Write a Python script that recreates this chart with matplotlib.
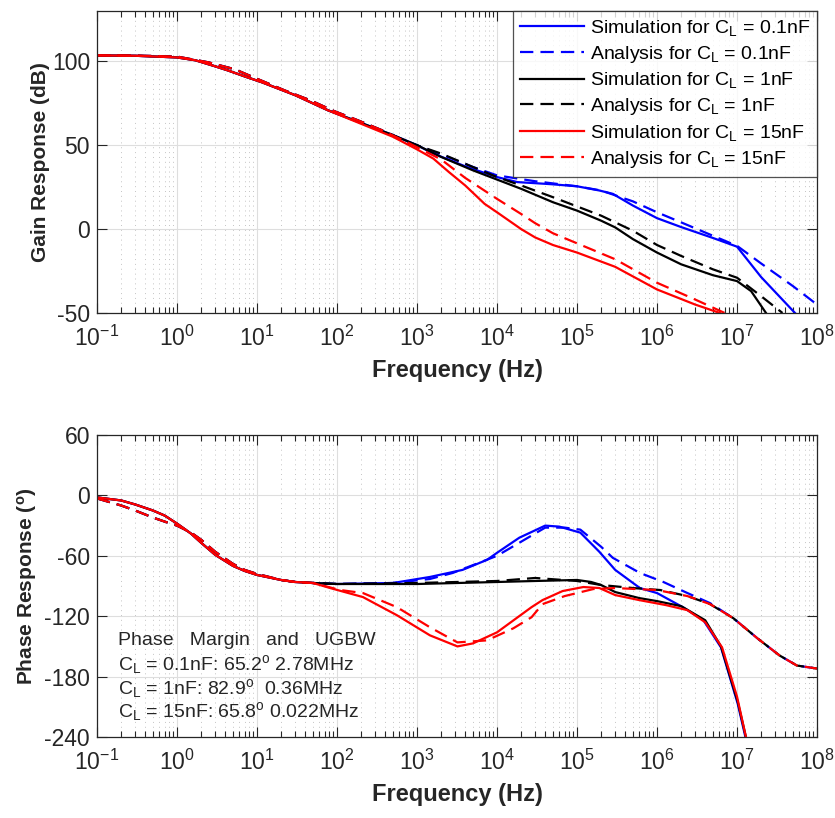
import numpy as np
import matplotlib
matplotlib.use('Agg')
import matplotlib.pyplot as plt
from matplotlib.ticker import LogLocator, NullFormatter

plt.rcParams['font.family'] = ['Liberation Sans', 'DejaVu Sans']
plt.rcParams['mathtext.fontset'] = 'custom'
plt.rcParams['mathtext.rm'] = 'Liberation Sans'
plt.rcParams['mathtext.it'] = 'Liberation Sans:italic'
plt.rcParams['mathtext.bf'] = 'Liberation Sans:bold'
plt.rcParams['axes.unicode_minus'] = False

# ---------------- gain data (dB) ----------------
# low frequency part, shared by all load caps
lf_gain_f = [0.1, 0.3, 1, 1.7, 3, 4.3, 7, 11.5, 30, 77, 205]
lf_gain_sim = [103.5, 103.3, 102.3, 100.6, 97, 94.6, 91, 87.5, 79.8, 70.8, 63]
lf_gain_ana_f = [0.1, 0.3, 1, 2.45, 5.3, 10.3, 22, 46, 93, 180]
lf_gain_ana = [103.5, 103.4, 102.8, 99.4, 95.2, 89.3, 82.7, 76.8, 70.2, 64.9]

g01_sim_f = [500, 1e3, 1.6e3, 4.2e3, 1e4, 1.8e4, 4.6e4, 1e5, 1.9e5, 2.8e5, 5e5, 1e6, 2e6, 5e6, 1e7, 2e7, 5.3e7]
g01_sim = [56, 50, 45, 37, 31, 28, 26.8, 25.5, 23, 21, 14, 6.5, 1.2, -5.3, -10.5, -28.6, -50]
g01_ana_f = [360, 770, 2e3, 5e3, 1e4, 3e4, 1e5, 2e5, 5e5, 1e6, 2e6, 5e6, 1e7, 2e7, 5e7, 1e8]
g01_ana = [59, 51.8, 44.5, 37, 32, 28.5, 25.5, 23, 16.5, 10, 4, -4, -10, -20.5, -34, -45]

g1_sim_f = [500, 1e3, 2e3, 5e3, 1e4, 2e4, 5e4, 1e5, 2e5, 3e5, 5e5, 1e6, 2e6, 5e6, 1e7, 1.5e7, 2.3e7]
g1_sim = [56, 50, 43, 35, 29.5, 24, 16, 11, 5, 1, -6, -14, -21, -27.5, -31, -37, -50]
g1_ana_f = [360, 770, 2e3, 5e3, 1e4, 2e4, 5e4, 1e5, 2e5, 5e5, 1e6, 2e6, 5e6, 1e7, 2e7, 3.7e7]
g1_ana = [59, 51.8, 45, 37, 31, 26, 19, 13.5, 8, -1, -9.5, -16, -24, -29, -40, -50]

g15_sim_f = [500, 1e3, 1.6e3, 2.5e3, 4e3, 7e3, 1e4, 2e4, 3e4, 5e4, 1e5, 3e5, 1e6, 3e6, 6.1e6]
g15_sim = [55, 47.5, 42, 34, 26, 15, 10, 0, -5, -9.5, -14, -22.5, -36, -45, -50]
g15_ana_f = [360, 770, 2e3, 4e3, 1e4, 2e4, 3e4, 5e4, 1e5, 3e5, 1e6, 3e6, 7e6]
g15_ana = [59, 51.5, 41.5, 30.5, 18, 9, 3.5, -2.5, -8.5, -18, -32, -42, -50]

# ---------------- phase data (deg) ----------------
lf_ph_f = [0.1, 0.2, 0.3, 0.5, 0.7, 1, 1.5, 2, 3, 5, 7, 10, 20, 30, 50]
lf_ph_sim = [-2, -5, -9, -15, -20, -28, -38, -47, -59, -70, -75, -79, -84, -86, -87]
lf_ph_ana = [-3, -10, -15, -22, -26, -30, -37, -44, -56, -68, -74, -78, -84, -86, -87]

p01_sim_f = [100, 500, 1.45e3, 3.7e3, 7.5e3, 1e4, 1.9e4, 4e4, 6e4, 1.1e5, 1.9e5, 3e5, 6.1e5, 1e6, 2.1e6, 3.8e6, 6.3e6, 1.02e7, 1.28e7]
p01_sim = [-88, -87, -81, -74, -64, -57, -42, -30, -31, -37, -56, -74, -92, -97, -111, -124, -151, -207, -241]
p01_ana_f = [100, 500, 1.45e3, 2.8e3, 1e4, 1.9e4, 4e4, 7e4, 1.1e5, 2e5, 2.8e5, 6.1e5, 1.2e6, 2.4e6, 4.6e6, 9e6, 1.8e7, 3.4e7, 5.6e7, 1e8]
p01_ana = [-88, -87, -83, -77, -60, -47, -32, -32, -34, -51, -62, -77, -86, -97, -107, -122, -142, -159, -169, -172]

p1_sim_f = [100, 1e3, 1e4, 3e4, 1e5, 1.5e5, 2e5, 3e5, 6e5, 1e6, 2e6, 4e6, 6.3e6, 1.02e7, 1.3e7]
p1_sim = [-88, -88, -86, -85, -84, -86, -89, -96, -102, -105, -110, -124, -150, -205, -241]
p1_ana_f = [100, 1e3, 1e4, 3e4, 1e5, 2e5, 5e5, 1.1e6, 2.4e6, 4.6e6, 9e6, 1.8e7, 3.4e7, 5.6e7, 1e8]
p1_ana = [-88, -87, -85, -82, -85, -89, -92, -94, -100, -108, -122, -142, -159, -169, -172]

p15_sim_f = [82, 211, 560, 1.45e3, 3.2e3, 5e3, 1e4, 2.7e4, 3.7e4, 6.6e4, 1.2e5, 1.9e5, 3e5, 6e5, 1.3e6, 2.4e6, 4e6, 6.5e6, 1e7, 1.3e7]
p15_sim = [-92, -101, -119, -139, -150, -147, -136, -111, -104, -95, -91, -92, -99, -104, -109, -114, -126, -151, -200, -241]
p15_ana_f = [110, 211, 560, 1.45e3, 3.2e3, 7.5e3, 1.6e4, 2.7e4, 3.7e4, 7e4, 1.6e5, 3e5, 1e6, 2.4e6, 4.6e6, 9e6, 1.8e7, 3.4e7, 5.6e7, 1e8]
p15_ana = [-94, -97, -111, -131, -146, -144, -132, -121, -108, -100, -93, -92, -94, -100, -108, -122, -142, -159, -169, -172]

labels = ['0.1nF', '1nF', '15nF']
colors = ['#0000ff', '#000000', '#ff0000']
pm_text = ['Phase   Margin   and   UGBW',
           'C$_\\mathregular{L}$ = 0.1nF: 65.2$^\\mathregular{o}$ 2.78MHz',
           'C$_\\mathregular{L}$ = 1nF: 82.9$^\\mathregular{o}$  0.36MHz',
           'C$_\\mathregular{L}$ = 15nF: 65.8$^\\mathregular{o}$ 0.022MHz']

gain_sets = [
    (lf_gain_f[:-1] + g01_sim_f, lf_gain_sim[:-1] + g01_sim, lf_gain_ana_f + g01_ana_f, lf_gain_ana + g01_ana),
    (lf_gain_f[:-1] + g1_sim_f, lf_gain_sim[:-1] + g1_sim, lf_gain_ana_f + g1_ana_f, lf_gain_ana + g1_ana),
    (lf_gain_f[:-1] + g15_sim_f, lf_gain_sim[:-1] + g15_sim, lf_gain_ana_f + g15_ana_f, lf_gain_ana + g15_ana),
]
phase_sets = [
    (lf_ph_f + p01_sim_f, lf_ph_sim + p01_sim, lf_ph_f + p01_ana_f, lf_ph_ana + p01_ana),
    (lf_ph_f + p1_sim_f, lf_ph_sim + p1_sim, lf_ph_f + p1_ana_f, lf_ph_ana + p1_ana),
    (lf_ph_f + p15_sim_f, lf_ph_sim + p15_sim, lf_ph_f + p15_ana_f, lf_ph_ana + p15_ana),
]

fig = plt.figure(figsize=(8.35, 8.18), dpi=100)
ax1 = fig.add_axes([0.1162, 0.6174, 0.8623, 0.3692])
ax2 = fig.add_axes([0.1162, 0.0990, 0.8623, 0.3692])

dash = (0, (6, 3.2))
lw = 1.6
txt = '#262626'


def style(ax):
    ax.set_xscale('log')
    ax.set_xlim(0.1, 1e8)
    ax.set_xticks([10.0 ** k for k in range(-1, 9)])
    ax.xaxis.set_minor_locator(LogLocator(base=10, subs=np.arange(2, 10), numticks=20))
    ax.xaxis.set_minor_formatter(NullFormatter())
    ax.grid(True, which='major', color='#dedede', lw=0.8)
    ax.grid(True, which='minor', axis='x', color='#c4c4c4', lw=0.7, ls=(0, (1, 4)))
    ax.set_axisbelow(True)
    ax.tick_params(which='both', direction='in', top=True, right=True,
                   labelsize=16.5, colors=txt)
    ax.tick_params(axis='x', which='major', pad=9)
    ax.tick_params(axis='y', which='major', pad=5)
    ax.tick_params(which='major', length=7, width=0.8)
    ax.tick_params(which='minor', length=4, width=0.8)
    for s in ax.spines.values():
        s.set_color(txt)
        s.set_linewidth(0.9)
    ax.set_xlabel('Frequency (Hz)', fontsize=17, fontweight='bold', color=txt, labelpad=6)


for (sf, sv, af, av), c, lab in zip(gain_sets, colors, labels):
    ax1.plot(sf, sv, color=c, lw=lw, label='Simulation for C$_\\mathregular{L}$ = ' + lab)
    ax1.plot(af, av, color=c, lw=lw, ls=dash, label='Analysis for C$_\\mathregular{L}$ = ' + lab)
style(ax1)
ax1.set_ylim(-50, 130)
ax1.set_yticks([-50, 0, 50, 100])
ax1.set_ylabel('Gain Response (dB)', fontsize=15, fontweight='bold', color=txt, labelpad=1)
leg = ax1.legend(loc='upper right', fontsize=14, frameon=True, fancybox=False,
                 borderaxespad=0, handlelength=3.3, labelspacing=0.3,
                 borderpad=0.35, handletextpad=0.3)
leg.get_frame().set_edgecolor(txt)
leg.get_frame().set_linewidth(0.9)

for (sf, sv, af, av), c in zip(phase_sets, colors):
    ax2.plot(sf, sv, color=c, lw=lw)
    ax2.plot(af, av, color=c, lw=lw, ls=dash)
style(ax2)
ax2.set_ylim(-240, 60)
ax2.set_yticks([-240, -180, -120, -60, 0, 60])
ax2.set_ylabel('Phase Response ($^\\mathregular{o}$)', fontsize=15, fontweight='bold', color=txt, labelpad=4)

ys = [0.318, 0.24, 0.162, 0.083]
for t, y in zip(pm_text, ys):
    ax2.text(0.029, y, t, transform=ax2.transAxes, fontsize=14, color=txt, va='center', ha='left')

fig.savefig('out.png', dpi=100)
